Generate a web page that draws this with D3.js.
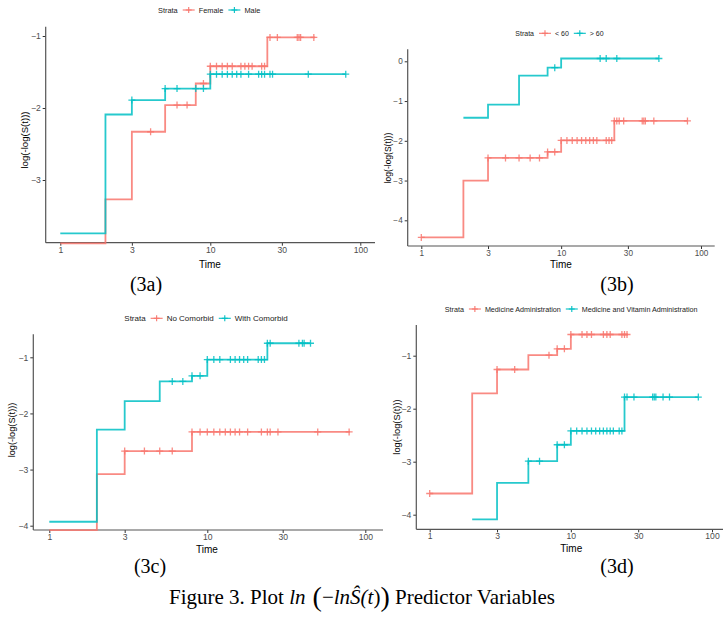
<!DOCTYPE html>
<html>
<head>
<meta charset="utf-8">
<script src="https://cdn.jsdelivr.net/npm/d3@7"></script>
<style>
  body { margin: 0; background: #fff; }
  svg { display: block; }
  .tick text { font-family: Arial, "Liberation Sans", sans-serif; fill: #4d4d4d; }
  .cap { font-family: "Times New Roman", "Liberation Serif", serif; fill: #000; }
</style>
</head>
<body>
<svg id="fig" width="723" height="620"></svg>
<script>
// tick values shared by all four panels
var timeTicks = [1, 3, 10, 30, 100];
var colors = ["#F8766D", "#00BFC4"];

// (3a) sex
var sexLabels = ["Female", "Male"];
var femaleSteps = [[1, -3.88], [2, -3.27], [3, -2.33], [5, -1.96], [8, -1.66], [10, -1.42], [24, -1.02]];
var femaleEnd = 50;
var femaleCensor = [4, 6, 7, 9, 10, 11, 12, 13, 14, 16, 17, 18, 19, 22, 23, 25, 28, 38, 39, 40, 49];
var maleSteps = [[1, -3.74], [2, -2.09], [3, -1.89], [5, -1.73], [10, -1.53]];
var maleEnd = 80;
var maleCensor = [3, 5, 6, 8, 9, 10, 11, 12, 13, 14, 15, 16, 18, 21, 22, 23, 25, 26, 45, 80];
var sexYTicks = [-1, -2, -3];

// (3b) age
var ageLabels = ["< 60", "> 60"];
var lt60Steps = [[1, -4.43], [2, -3.0], [3, -2.43], [8, -2.28], [10, -1.99], [24, -1.5]];
var lt60End = 80;
var lt60Censor = [1, 3, 4, 5, 6, 7, 8, 9, 10, 11, 12, 13, 14, 15, 16, 17, 18, 21, 22, 23, 24, 25, 26, 28, 38, 39, 40, 46, 80];
var gt60Steps = [[2, -1.42], [3, -1.09], [5, -0.36], [8, -0.16], [10, 0.07]];
var gt60End = 50;
var gt60Censor = [9, 19, 21, 25, 50];
var ageYTicks = [0, -1, -2, -3, -4];

// (3c) comorbidity
var comLabels = ["No Comorbid", "With Comorbid"];
var noComSteps = [[1, -4.08], [2, -3.08], [3, -2.67], [8, -2.33]];
var noComEnd = 80;
var noComCensor = [3, 4, 5, 6, 8, 9, 10, 11, 12, 13, 14, 15, 16, 18, 22, 24, 25, 28, 50, 79];
var withComSteps = [[1, -3.93], [2, -2.29], [3, -1.78], [5, -1.43], [8, -1.33], [10, -1.04], [24, -0.75]];
var withComEnd = 45;
var withComCensor = [6, 7, 8, 9, 10, 11, 12, 14, 15, 16, 17, 18, 21, 22, 23, 24, 25, 38, 40, 41, 45];
var comYTicks = [-1, -2, -3, -4];

// (3d) therapy
var therLabels = ["Medicine Administration", "Medicine and Vitamin Administration"];
var medSteps = [[1, -3.6], [2, -1.71], [3, -1.26], [5, -0.99], [8, -0.87], [10, -0.6]];
var medEnd = 25.4;
var medCensor = [1, 3, 4, 7, 8, 9, 10, 12, 13, 14, 17, 18, 19, 23, 24, 25];
var medVitSteps = [[2, -4.09], [3, -3.4], [5, -2.99], [8, -2.68], [10, -2.42], [24, -1.78]];
var medVitEnd = 80;
var medVitCensor = [5, 6, 8, 9, 10, 11, 12, 13, 14, 15, 16, 17, 18, 19, 20, 22, 23, 24, 25, 28, 38, 39, 40, 45, 50, 80];
var therYTicks = [-1, -2, -3, -4];

var svg = d3.select("#fig");

// value of a step curve at time t (right-continuous)
function stepAt(steps, t) {
    var i = d3.bisectRight(steps.map(function(d) { return d[0]; }), t) - 1;
    return steps[Math.max(i, 0)][1];
}

function drawPanel(p) {
    var x = d3.scaleLog().domain([1, 100]).range([p.x1, p.x100]);
    var y = d3.scaleLinear().domain(p.yRef).range(p.yPix);
    var g = svg.append("g");

    // axes
    g.append("g")
    .attr("transform", "translate(0," + p.axisY + ")")
    .call(d3.axisBottom(x).tickValues(timeTicks).tickFormat(d3.format("d")).tickSize(3).tickPadding(1))
    .call(function(a) {
        a.select(".domain").remove();
        a.selectAll("line").attr("stroke", "#333");
        a.selectAll("text").style("font-size", p.tickFont + "px");
    });

    g.append("g")
    .attr("transform", "translate(" + p.axisX + ",0)")
    .call(d3.axisLeft(y).tickValues(p.yTicks).tickFormat(d3.format("d")).tickSize(3).tickPadding(2))
    .call(function(a) {
        a.select(".domain").remove();
        a.selectAll("line").attr("stroke", "#333");
        a.selectAll("text").style("font-size", p.tickFont + "px");
    });

    g.append("line")
    .attr("x1", p.axisX).attr("x2", p.axisX)
    .attr("y1", p.axisTop).attr("y2", p.axisY)
    .attr("stroke", "#555").attr("stroke-width", 1.2);
    g.append("line")
    .attr("x1", p.axisX).attr("x2", p.axisRight)
    .attr("y1", p.axisY).attr("y2", p.axisY)
    .attr("stroke", "#555").attr("stroke-width", 1.2);

    // curves
    var line = d3.line()
    .x(function(d) { return x(d[0]); })
    .y(function(d) { return y(d[1]); })
    .curve(d3.curveStepAfter);

    p.series.forEach(function(s, i) {
        var pts = s.steps.concat([[s.end, s.steps[s.steps.length - 1][1]]]);
        g.append("path")
        .attr("d", line(pts))
        .attr("fill", "none")
        .attr("stroke", colors[i])
        .attr("stroke-width", 1.8)
        .attr("stroke-opacity", 0.85);

        g.selectAll(".cens" + i)
        .data(s.censor)
        .enter().append("path")
        .attr("d", function(t) {
            var cx = x(t), cy = y(stepAt(s.steps, t));
            return "M" + (cx - 3.5) + "," + cy + "H" + (cx + 3.5) + "M" + cx + "," + (cy - 3.5) + "V" + (cy + 3.5);
        })
        .attr("stroke", colors[i])
        .attr("stroke-width", 1.3)
        .attr("stroke-opacity", 0.85);
    });

    // axis titles
    g.append("text")
    .attr("x", p.timeX).attr("y", p.timeY)
    .attr("text-anchor", "middle")
    .style("font-family", "Arial, 'Liberation Sans', sans-serif")
    .style("font-size", "10px")
    .text("Time");

    g.append("text")
    .attr("transform", "translate(" + p.ylabX + "," + p.ylabY + ") rotate(-90)")
    .attr("text-anchor", "middle")
    .style("font-family", "Arial, 'Liberation Sans', sans-serif")
    .style("font-size", p.ylabFont + "px")
    .text("log(-log(S(t)))");

    // legend on top
    var leg = g.append("g")
    .attr("transform", "translate(" + p.legX + "," + p.legY + ")")
    .style("font-family", "Arial, 'Liberation Sans', sans-serif")
    .style("font-size", p.legFont + "px");

    var strata = leg.append("text").attr("x", 0).attr("y", 2.5).attr("fill", "#222").text("Strata");
    var cx = strata.node().getComputedTextLength() + 5;
    p.labels.forEach(function(lab, i) {
        leg.append("line")
        .attr("x1", cx).attr("x2", cx + 12).attr("y1", 0).attr("y2", 0)
        .attr("stroke", colors[i]).attr("stroke-width", 1.1);
        leg.append("path")
        .attr("d", "M" + (cx + 3) + ",0H" + (cx + 9) + "M" + (cx + 6) + ",-3V3")
        .attr("stroke", colors[i]).attr("stroke-width", 1.1);
        cx += 16;
        var t = leg.append("text").attr("x", cx).attr("y", 2.5).attr("fill", "#222").text(lab);
        cx += t.node().getComputedTextLength() + 5;
    });

    // sub-figure caption
    svg.append("text")
    .attr("class", "cap")
    .attr("x", p.capX).attr("y", p.capY)
    .attr("text-anchor", "middle")
    .style("font-size", "20px")
    .text(p.cap);
}

var panels = [
    {cap: "(3a)", capX: 146, capY: 291, labels: sexLabels, yTicks: sexYTicks,
     series: [{steps: femaleSteps, end: femaleEnd, censor: femaleCensor},
              {steps: maleSteps, end: maleEnd, censor: maleCensor}],
     x1: 60.3, x100: 360.3, yRef: [-1, -3], yPix: [36, 180],
     axisX: 45.7, axisY: 242.7, axisTop: 26.7, axisRight: 375,
     tickFont: 8.6, ylabFont: 9.6, ylabX: 28, ylabY: 140, timeX: 210, timeY: 267.5,
     legX: 158, legY: 10, legFont: 7.4},
    {cap: "(3b)", capX: 617, capY: 291, labels: ageLabels, yTicks: ageYTicks,
     series: [{steps: lt60Steps, end: lt60End, censor: lt60Censor},
              {steps: gt60Steps, end: gt60End, censor: gt60Censor}],
     x1: 421.3, x100: 701, yRef: [0, -4], yPix: [61.3, 220.3],
     axisX: 407.7, axisY: 246, axisTop: 49.3, axisRight: 714.7,
     tickFont: 8.2, ylabFont: 8.5, ylabX: 391, ylabY: 158, timeX: 561, timeY: 268,
     legX: 515.3, legY: 33.3, legFont: 7},
    {cap: "(3c)", capX: 150, capY: 573, labels: comLabels, yTicks: comYTicks,
     series: [{steps: noComSteps, end: noComEnd, censor: noComCensor},
              {steps: withComSteps, end: withComEnd, censor: withComCensor}],
     x1: 49.3, x100: 365.3, yRef: [-1, -4], yPix: [357.3, 525.7],
     axisX: 33.3, axisY: 530, axisTop: 334.3, axisRight: 383,
     tickFont: 8.6, ylabFont: 9.2, ylabX: 15, ylabY: 430, timeX: 207, timeY: 552.5,
     legX: 124.3, legY: 318.3, legFont: 8},
    {cap: "(3d)", capX: 617, capY: 573, labels: therLabels, yTicks: therYTicks,
     series: [{steps: medSteps, end: medEnd, censor: medCensor},
              {steps: medVitSteps, end: medVitEnd, censor: medVitCensor}],
     x1: 429.7, x100: 712, yRef: [-1, -4], yPix: [355.7, 514.7],
     axisX: 416.3, axisY: 529.3, axisTop: 325, axisRight: 723,
     tickFont: 8.6, ylabFont: 9.3, ylabX: 400, ylabY: 427, timeX: 571.3, timeY: 551.5,
     legX: 444.7, legY: 309, legFont: 7.2}
];

panels.forEach(drawPanel);

// figure caption
var fc = svg.append("text")
.attr("class", "cap")
.attr("x", 362).attr("y", 604)
.attr("text-anchor", "middle")
.style("font-size", "21px");
fc.append("tspan").text("Figure 3. Plot ");
fc.append("tspan").style("font-style", "italic").text("ln");
fc.append("tspan").style("font-size", "28px").attr("dy", 2).text(" (");
fc.append("tspan").attr("dy", -2).text("\u2212");
fc.append("tspan").style("font-style", "italic").text("ln\u015C(t");
fc.append("tspan").text(")");
fc.append("tspan").style("font-size", "28px").attr("dy", 2).text(")");
fc.append("tspan").attr("dy", -2).text(" Predictor Variables");
</script>
</body>
</html>
